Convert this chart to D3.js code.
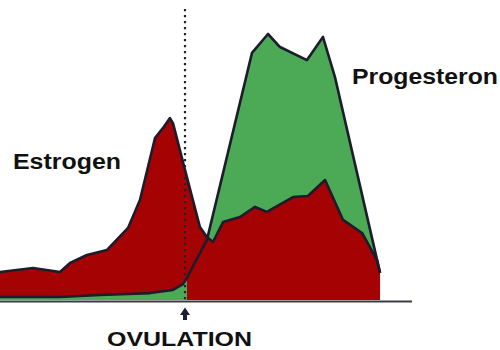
<!DOCTYPE html>
<html>
<head>
<meta charset="utf-8">
<script src="https://cdn.jsdelivr.net/npm/d3@7"></script>
<style>
  html, body { margin: 0; padding: 0; background: #fff; }
  svg { display: block; }
</style>
</head>
<body>
<svg id="chart" width="500" height="350"></svg>
<script>
// Cycle day (x) and relative hormone level (0-100)
const estrogenDays  = [0, 2.5, 4.54, 5.3, 6.58, 8.1, 9.69, 10.59, 11.73, 12.34, 12.86, 13.09, 14.0, 15.13, 15.66, 16.12, 16.88, 18.16, 19.3, 20.2, 22.17, 23.3, 24.6, 25.96, 27.4, 28.53, 28.76];
const estrogenVals  = [10.5, 12.0, 10.5, 13.9, 16.9, 18.8, 27.1, 37.6, 60.9, 64.7, 68.4, 66.5, 48.9, 27.4, 23.7, 21.8, 29.3, 31.2, 35.0, 33.1, 38.7, 39.1, 45.1, 30.1, 25.2, 15.0, 10.2];
const progDays      = [0, 4.54, 7.57, 11.35, 13.09, 13.85, 14.15, 15.66, 19.07, 20.28, 21.19, 23.23, 24.44, 25.35, 28.76];
const progVals      = [1.1, 1.1, 1.9, 2.6, 3.8, 6.0, 8.3, 22.6, 92.9, 100, 95.1, 90.2, 98.9, 83.8, 10.2];
const ovulationDay  = 14;
const labels = { estrogen: "Estrogen", progesterone: "Progesteron", ovulation: "OVULATION" };

const svg = d3.select("#chart");
const x = d3.scaleLinear().domain([0, 28]).range([0, 370]);
const y = d3.scaleLinear().domain([0, 100]).range([300, 34]);

const estrogen = estrogenDays.map((d, i) => ({ d, v: estrogenVals[i] }));
const prog = progDays.map((d, i) => ({ d, v: progVals[i] }));

const area = d3.area().x(p => x(p.d)).y0(y(0)).y1(p => y(p.v));
const line = d3.line().x(p => x(p.d)).y(p => y(p.v));

const RED = "#a50303", GREEN = "#4caa57", STROKE = "#1c1c2c";

svg.append("defs").append("clipPath").attr("id", "preOv")
  .append("rect").attr("x", -10).attr("y", 0)
  .attr("width", x(ovulationDay) + 12).attr("height", 350);

// fills
svg.append("path").datum(prog).attr("d", area).attr("fill", GREEN);
svg.append("path").datum(estrogen).attr("d", area).attr("fill", RED);
svg.append("path").datum(prog).attr("d", area).attr("fill", GREEN).attr("clip-path", "url(#preOv)");

// baseline
svg.append("line").attr("x1", 0).attr("x2", 412).attr("y1", y(0) + 1.5).attr("y2", y(0) + 1.5)
  .attr("stroke", "#3a3a48").attr("stroke-width", 2);

// outlines
svg.append("path").datum(estrogen).attr("d", line).attr("fill", "none")
  .attr("stroke", STROKE).attr("stroke-width", 2.6).attr("stroke-linejoin", "round");
svg.append("path").datum(prog).attr("d", line).attr("fill", "none")
  .attr("stroke", STROKE).attr("stroke-width", 2.6).attr("stroke-linejoin", "round");

// ovulation dotted line
svg.append("line").attr("x1", x(ovulationDay)).attr("x2", x(ovulationDay))
  .attr("y1", 9).attr("y2", y(0))
  .attr("stroke", "#22222e").attr("stroke-width", 2.2).attr("stroke-dasharray", "2.2,3.8");

// arrow
const ax = x(ovulationDay);
svg.append("path")
  .attr("d", `M${ax},307.5 L${ax + 5},315 L${ax + 2},315 L${ax + 2},320 L${ax - 2},320 L${ax - 2},315 L${ax - 5},315 Z`)
  .attr("fill", "#1d1d35");

// labels
const font = "'Liberation Sans', Arial, Helvetica, sans-serif";
svg.append("text").attr("x", 13).attr("y", 169).text(labels.estrogen)
  .attr("font-family", font).attr("font-weight", "bold").attr("font-size", 22)
  .attr("textLength", 108).attr("lengthAdjust", "spacingAndGlyphs").attr("fill", "#111");
svg.append("text").attr("x", 352).attr("y", 84).text(labels.progesterone)
  .attr("font-family", font).attr("font-weight", "bold").attr("font-size", 22)
  .attr("textLength", 146).attr("lengthAdjust", "spacingAndGlyphs").attr("fill", "#111");
svg.append("text").attr("x", 107).attr("y", 346).text(labels.ovulation)
  .attr("font-family", font).attr("font-weight", "bold").attr("font-size", 21)
  .attr("textLength", 145).attr("lengthAdjust", "spacingAndGlyphs").attr("fill", "#111");
</script>
</body>
</html>
